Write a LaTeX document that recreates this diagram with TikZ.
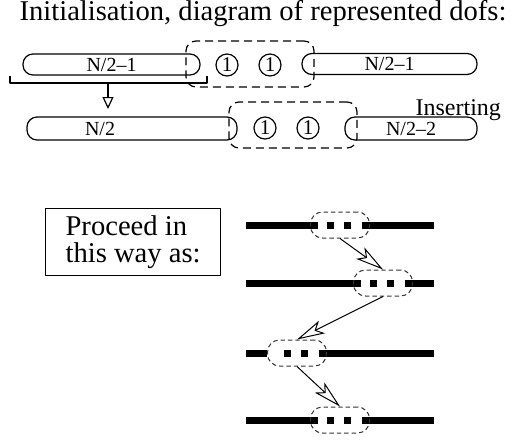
\documentclass[tikz,border=0pt]{standalone}
\usepackage{fontspec}
\setmainfont{Liberation Serif}
\usetikzlibrary{arrows.meta}

\begin{document}
\begin{tikzpicture}[x=0.5pt,y=-0.5pt,line join=round,
	pill/.style={draw,line width=0.6pt,rounded corners=5pt,minimum height=10.5pt,inner sep=0pt,font=\fontsize{10}{12}\selectfont},
	dofgroup/.style={draw,line width=0.6pt,dash pattern=on 4pt off 2.5pt,rounded corners=5pt,minimum width=64pt,minimum height=23pt,inner sep=0pt},
	dof/.style={draw,circle,line width=0.6pt,minimum size=11pt,inner sep=0pt,font=\fontsize{10.5}{12}\selectfont},
	gapbox/.style={draw,gray!40!black,line width=0.5pt,dash pattern=on 2.2pt off 1.5pt,rounded corners=6pt,minimum width=29.5pt,minimum height=13pt,inner sep=0pt},
	bar/.style={line width=3.5pt},
	moveto/.style={line width=0.5pt,-{Stealth[open,length=14pt,width=7pt,inset=3.5pt]}}]
			\useasboundingbox (0,0) rectangle (512,440);
			\node[anchor=base,font=\fontsize{14.3}{16}\selectfont] (title) at (263,20.5) {Initialisation, diagram of represented dofs:};
			\node[dofgroup] (grpA) at (250,64) {};
			\node[pill,minimum width=88.5pt] (leftA) at (111.5,64.5) {N/2--1};
			\node[dof] (dofA1) at (227,65) {1};
			\node[dof] (dofA2) at (270,65) {1};
			\node[pill,minimum width=87.5pt] (rightA) at (389.5,64) {N/2--1};
			\coordinate (brL) at (10,76);
			\coordinate (brR) at (207,76);
			\coordinate (brM) at (108,83);
			\coordinate (insTip) at (108,109);
			\draw[line width=0.6pt] (brL) |- (brR |- brM) -- (brR);
			\draw[line width=0.6pt,-{Triangle[open,length=6pt,width=5.5pt]}] (brM) -- (insTip);
			\node[dofgroup] (grpB) at (293,125) {};
			\node[pill,minimum width=105pt,minimum height=11.5pt] (leftB) at (132,128.5) {};
			\node[font=\fontsize{10}{12}\selectfont] (leftBtext) at (100,128.5) {N/2};
			\node[dof] (dofB1) at (265,128) {1};
			\node[dof] (dofB2) at (308,128) {1};
			\node[pill,minimum width=66pt,minimum height=11.5pt] (rightB) at (411,128.5) {N/2--2};
			\node[anchor=base east,font=\fontsize{12}{14}\selectfont] (ins) at (508,115) {Inserting};
			\node[draw,line width=0.6pt,align=left,anchor=north west,minimum width=87.5pt,minimum height=33.5pt,font=\fontsize{14.3}{13.5}\selectfont] (howto) at (45,208) {Proceed in\\this way as:};
			\foreach \r/\y/\c/\l in {1/225/340/22,2/283/383/22,3/353/297/30,4/420/340/22}{
				\draw[bar] (246,\y) -- (\c-\l,\y) (\c-13,\y) -- (\c-6,\y) (\c+4,\y) -- (\c+11,\y) (\c+22,\y) -- (434,\y);
				\node[gapbox] (gap\r) at (\c,\y) {};
			}
			\foreach \a/\b in {1/2,2/3,3/4}
				\draw[moveto] (gap\a.south) -- (gap\b.north);
		\end{tikzpicture}
\end{document}
